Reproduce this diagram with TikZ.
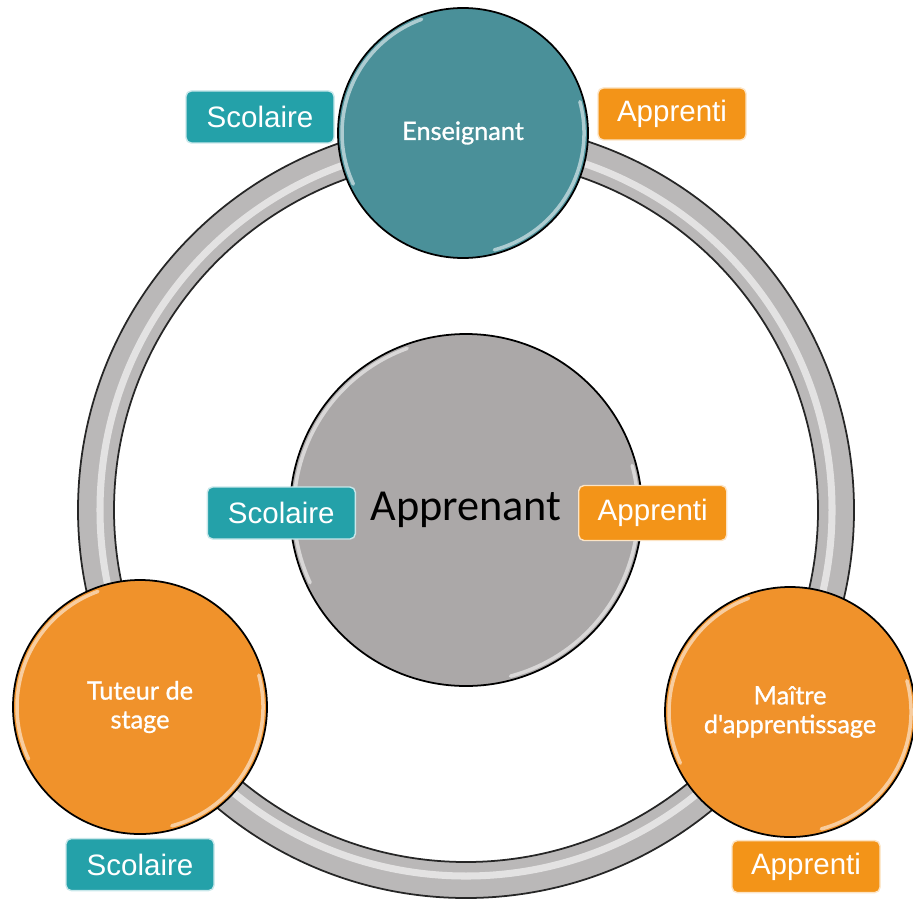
\documentclass[tikz,border=0pt]{standalone}
\usepackage{fontspec}
\setmainfont{Carlito}
\newfontfamily\tagfont{Liberation Sans}
\newfontfamily\rolefont[FakeBold=1]{Lato}
\usetikzlibrary{positioning}
\definecolor{ringgrey}{HTML}{BAB8B8}
\definecolor{learnergrey}{HTML}{ABA8A8}
\definecolor{teacherteal}{HTML}{4A9099}
\definecolor{tagteal}{HTML}{24A1A9}
\definecolor{roleorange}{HTML}{F0922B}
\definecolor{tagorange}{HTML}{F39418}
\tikzset{
  role/.style={circle, draw=black, line width=0.5pt, text=white, align=center,
    inner sep=0pt, font=\rolefont\fontsize{7.2}{8.2}\selectfont},
  tag/.style={rounded corners=1.5pt, draw=white!75!#1, line width=0.4pt, fill=#1,
    text=white, minimum width=1.48cm, minimum height=0.52cm, inner sep=0pt,
    font=\tagfont\fontsize{8.4}{10}\selectfont},
  gloss/.style={white, opacity=0.55, line width=1pt, line cap=round},
}

\begin{document}
\begin{tikzpicture}
  \useasboundingbox (0,0) rectangle (9.13,9);

  % Ring
  \coordinate (hub) at (4.66,3.90);
  \fill[ringgrey, even odd rule] (hub) circle[radius=3.88] (hub) circle[radius=3.52];
  \draw[white, opacity=.6, line width=2pt] (hub) circle[radius=3.66];
  \draw[black!85, line width=0.5pt] (hub) circle[radius=3.88] (hub) circle[radius=3.52];

  % Roles
  \node[role, fill=teacherteal, minimum size=2.5cm] (enseignant) at (4.63,7.67) {Enseignant};
  \node[role, fill=roleorange, minimum size=2.54cm] (tuteur) at (1.40,1.93) {Tuteur de\\stage};
  \node[role, fill=roleorange, minimum size=2.5cm] (maitre) at (7.90,1.88) {Maître\\d'apprentissage};
  \node[role, fill=learnergrey, minimum size=3.52cm, text=black,
    font=\fontsize{12.6}{14}\selectfont] (apprenant) at (hub) {Apprenant};

  \foreach \n/\r in {enseignant/1.21, tuteur/1.23, maitre/1.21, apprenant/1.72} {
    \draw[gloss] (\n.center) ++(110:\r) arc[start angle=110, end angle=205, radius=\r];
    \draw[gloss] (\n.center) ++(-75:\r) arc[start angle=-75, end angle=15, radius=\r];
  }

  % Tags
  \node[tag=tagteal] (scolaireA) at (2.60,7.83) {Scolaire};
  \node[tag=tagorange] (apprentiA) at (6.72,7.86) {Apprenti};
  \node[tag=tagteal, yshift=-0.03cm, left=1.1cm of apprenant.center] (scolaireB) {Scolaire};
  \node[tag=tagorange, yshift=-0.03cm, minimum height=0.55cm, right=1.12cm of apprenant.center] (apprentiB) {Apprenti};
  \node[tag=tagteal, below=0.03cm of tuteur] (scolaireC) {Scolaire};
  \node[tag=tagorange, xshift=0.16cm, below=0.02cm of maitre] (apprentiC) {Apprenti};
\end{tikzpicture}
\end{document}
